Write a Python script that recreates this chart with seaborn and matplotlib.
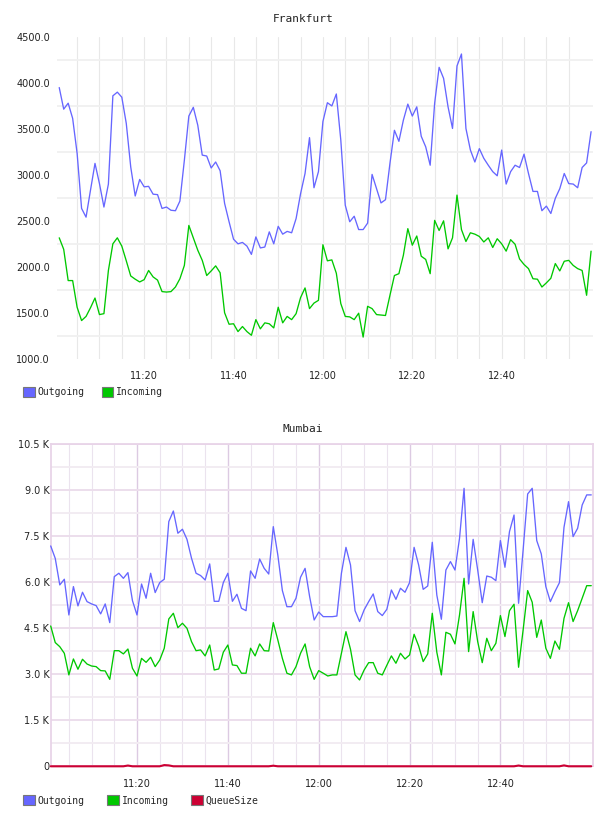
import matplotlib
matplotlib.use("Agg")
import pandas as pd
import matplotlib.pyplot as plt
from matplotlib.patches import Patch
from matplotlib.ticker import FixedLocator, FuncFormatter
import seaborn as sns

# minutes after 11:00, one sample per minute
minutes = list(range(1, 121))

fra_outgoing = [
    3950, 3715, 3780, 3615, 3235, 2635, 2540, 2835, 3125, 2905,
    2650, 2900, 3860, 3900, 3845, 3560, 3085, 2770, 2950, 2870,
    2875, 2790, 2785, 2635, 2650, 2615, 2610, 2715, 3160, 3640,
    3735, 3540, 3215, 3205, 3075, 3140, 3045, 2690, 2490, 2300,
    2250, 2265, 2225, 2135, 2325, 2205, 2215, 2380, 2250, 2440,
    2355, 2385, 2370, 2525, 2795, 3015, 3405, 2860, 3035, 3580,
    3785, 3750, 3880, 3380, 2670, 2490, 2550, 2405, 2405, 2475,
    3005, 2850, 2695, 2730, 3125, 3485, 3365, 3595, 3770, 3640,
    3740, 3420, 3305, 3105, 3780, 4170, 4050, 3740, 3505, 4185,
    4315, 3505, 3270, 3140, 3285, 3180, 3105, 3035, 2990, 3270,
    2900, 3035, 3105, 3080, 3225, 3015, 2820, 2820, 2610, 2660,
    2580, 2745, 2850, 3015, 2905, 2900, 2860, 3080, 3130, 3470,
]
fra_incoming = [
    2315, 2190, 1850, 1850, 1560, 1415, 1460, 1555, 1660, 1480,
    1490, 1960, 2250, 2315, 2225, 2065, 1900, 1865, 1835, 1860,
    1960, 1890, 1855, 1730, 1725, 1730, 1780, 1870, 2015, 2450,
    2315, 2180, 2070, 1905, 1955, 2010, 1935, 1500, 1375, 1380,
    1295, 1350, 1295, 1255, 1425, 1325, 1390, 1380, 1335, 1560,
    1390, 1460, 1425, 1490, 1665, 1770, 1545, 1605, 1635, 2240,
    2065, 2075, 1930, 1600, 1460, 1455, 1425, 1495, 1235, 1570,
    1545, 1480, 1475, 1470, 1690, 1905, 1925, 2125, 2415, 2235,
    2335, 2115, 2080, 1925, 2505, 2395, 2500, 2195, 2315, 2780,
    2405, 2275, 2370, 2355, 2330, 2270, 2315, 2210, 2305, 2250,
    2170, 2295, 2245, 2085, 2025, 1980, 1870, 1865, 1780, 1825,
    1875, 2035, 1955, 2060, 2070, 2015, 1980, 1960, 1690, 2170,
]

mum_outgoing = [
    7185, 6780, 5915, 6100, 4935, 5860, 5230, 5675, 5370, 5295,
    5240, 4970, 5295, 4685, 6185, 6295, 6130, 6315, 5400, 4935,
    5945, 5480, 6295, 5665, 5990, 6100, 7980, 8325, 7600, 7730,
    7400, 6785, 6295, 6220, 6075, 6600, 5380, 5380, 5990, 6295,
    5380, 5610, 5150, 5075, 6370, 6130, 6760, 6455, 6270, 7815,
    6890, 5730, 5205, 5205, 5480, 6165, 6455, 5535, 4770, 5030,
    4880, 4880, 4880, 4900, 6295, 7140, 6565, 5075, 4720, 5100,
    5370, 5620, 5045, 4915, 5120, 5750, 5445, 5805, 5675, 5990,
    7140, 6565, 5770, 5880, 7305, 5585, 4795, 6400, 6675, 6400,
    7435, 9065, 5945, 7400, 6400, 5335, 6205, 6165, 6055, 7360,
    6490, 7655, 8195, 5315, 7055, 8880, 9065, 7360, 6925, 5860,
    5370, 5695, 5990, 7795, 8630, 7490, 7760, 8520, 8850, 8850,
]
mum_incoming = [
    4575, 4035, 3900, 3685, 2980, 3500, 3165, 3490, 3335, 3270,
    3250, 3120, 3110, 2835, 3770, 3770, 3665, 3825, 3195, 2945,
    3520, 3390, 3555, 3250, 3465, 3850, 4805, 4990, 4520, 4665,
    4500, 4065, 3770, 3795, 3600, 3955, 3140, 3175, 3720, 3955,
    3305, 3285, 3035, 3035, 3850, 3600, 3990, 3770, 3760, 4685,
    4120, 3520, 3035, 2980, 3250, 3685, 3990, 3250, 2835, 3120,
    3035, 2945, 2980, 2980, 3685, 4390, 3815, 2980, 2815, 3140,
    3380, 3380, 3035, 2980, 3295, 3600, 3360, 3685, 3500, 3630,
    4305, 3925, 3415, 3665, 4990, 3720, 2980, 4370, 4305, 3990,
    4935, 6130, 3740, 5045, 4065, 3380, 4175, 3770, 4010, 4915,
    4230, 5075, 5285, 3230, 4445, 5730, 5350, 4205, 4770, 3850,
    3520, 4085, 3815, 4825, 5335, 4720, 5075, 5480, 5890, 5890,
]
mum_queue = [0] * 120
for i, q in [(17, 25), (25, 40), (26, 30), (49, 20), (103, 25), (113, 30)]:
    mum_queue[i] = q

colors = {"Outgoing": "#6666ff", "Incoming": "#00c800", "QueueSize": "#cc0033"}


def hhmm(x, pos=None):
    x = int(round(x))
    return f"{11 + x // 60}:{x % 60:02d}"


def kfmt(v, pos=None):
    return "0" if v == 0 else f"{v / 1000:.1f} K"


sns.set_style("white")
plt.rcParams["font.family"] = "DejaVu Sans"

fig = plt.figure(figsize=(6.08, 8.16), dpi=100)
W, H = 608.0, 816.0
ax1 = fig.add_axes([57 / W, 1 - 358.7 / H, (593.3 - 57) / W, (358.7 - 37) / H])
ax2 = fig.add_axes([50.7 / W, 1 - 766.3 / H, (593.3 - 50.7) / W, (766.3 - 444.3) / H])

# ---- Frankfurt
fra = pd.DataFrame({
    "minute": minutes * 2,
    "value": fra_outgoing + fra_incoming,
    "series": ["Outgoing"] * 120 + ["Incoming"] * 120,
})
sns.lineplot(data=fra, x="minute", y="value", hue="series", palette=colors,
             estimator=None, linewidth=0.95, legend=False, ax=ax1, zorder=3)
ax1.set_xlim(0.5, 120.5)
ax1.set_ylim(1000, 4500)
ax1.yaxis.set_major_locator(FixedLocator(range(1000, 4501, 500)))
ax1.yaxis.set_minor_locator(FixedLocator(range(1250, 4251, 500)))
ax1.yaxis.set_major_formatter(FuncFormatter(lambda v, p: f"{v:.1f}"))
ax1.xaxis.set_major_locator(FixedLocator([20, 40, 60, 80, 100]))
ax1.xaxis.set_minor_locator(FixedLocator(range(5, 120, 5)))
ax1.xaxis.set_major_formatter(FuncFormatter(hhmm))
ax1.grid(False)
ax1.grid(True, which="minor", axis="y", color="#f0f0f0", linewidth=1.3, zorder=0)
ax1.grid(True, which="minor", axis="x", color="#e8e8e8", linewidth=0.8, zorder=0)
ax1.grid(True, which="major", axis="x", color="#e8e8e8", linewidth=0.8, zorder=0)
for s in ax1.spines.values():
    s.set_visible(False)
ax1.tick_params(axis="both", which="both", length=0, labelsize=7, colors="#222222")
ax1.tick_params(axis="y", pad=5)
ax1.tick_params(axis="x", pad=9)
ax1.set_xlabel("")
ax1.set_ylabel("")

# ---- Mumbai
mum = pd.DataFrame({
    "minute": minutes * 3,
    "value": mum_outgoing + mum_incoming + mum_queue,
    "series": ["Outgoing"] * 120 + ["Incoming"] * 120 + ["QueueSize"] * 120,
})
sns.lineplot(data=mum, x="minute", y="value", hue="series", palette=colors,
             estimator=None, linewidth=0.95, legend=False, ax=ax2, zorder=3)
for ln in ax2.lines:
    ln.set_clip_on(False)
ax2.lines[-1].set_linewidth(1.5)
ax2.set_xlim(1, 120.45)
ax2.set_ylim(0, 10500)
ax2.yaxis.set_major_locator(FixedLocator(range(0, 10501, 1500)))
ax2.yaxis.set_minor_locator(FixedLocator(range(750, 10500, 1500)))
ax2.yaxis.set_major_formatter(FuncFormatter(kfmt))
ax2.xaxis.set_major_locator(FixedLocator([20, 40, 60, 80, 100]))
ax2.xaxis.set_minor_locator(FixedLocator([m for m in range(5, 120, 5) if m % 20]))
ax2.xaxis.set_major_formatter(FuncFormatter(hhmm))
ax2.grid(False)
ax2.grid(True, which="major", axis="y", color="#ecdeec", linewidth=1.4, zorder=0)
ax2.grid(True, which="minor", axis="y", color="#f2ecf2", linewidth=1.4, zorder=0)
ax2.grid(True, which="major", axis="x", color="#dccae2", linewidth=1.0, zorder=0)
ax2.grid(True, which="minor", axis="x", color="#ebe3ee", linewidth=0.8, zorder=0)
for name, s in ax2.spines.items():
    s.set_visible(True)
    s.set_color("#e8d4e8")
    s.set_linewidth(1.3)
ax2.tick_params(axis="both", which="both", length=0, labelsize=7, colors="#222222")
ax2.tick_params(axis="y", pad=1)
ax2.tick_params(axis="x", pad=9)
ax2.set_xlabel("")
ax2.set_ylabel("")

# ---- titles and legends
mono = "DejaVu Sans Mono"
fig.text(303 / W, 1 - 19 / H, "Frankfurt", ha="center", va="center", family=mono, fontsize=8, color="#222222")
fig.text(303 / W, 1 - 429 / H, "Mumbai", ha="center", va="center", family=mono, fontsize=8, color="#222222")


def add_legend(names, ypix, spacing):
    handles = [Patch(facecolor=colors[n], edgecolor="#777777", linewidth=0.8, label=n) for n in names]
    fig.legend(handles=handles, loc="center left", bbox_to_anchor=(23 / W, 1 - ypix / H),
               ncol=len(names), frameon=False, borderpad=0, borderaxespad=0,
               handlelength=1.2, handleheight=1.2, handletextpad=0.3, columnspacing=spacing,
               prop={"family": mono, "size": 7})


add_legend(["Outgoing", "Incoming"], 392, 1.75)
add_legend(["Outgoing", "Incoming", "QueueSize"], 800.5, 2.3)

fig.savefig("out.png", dpi=100)
